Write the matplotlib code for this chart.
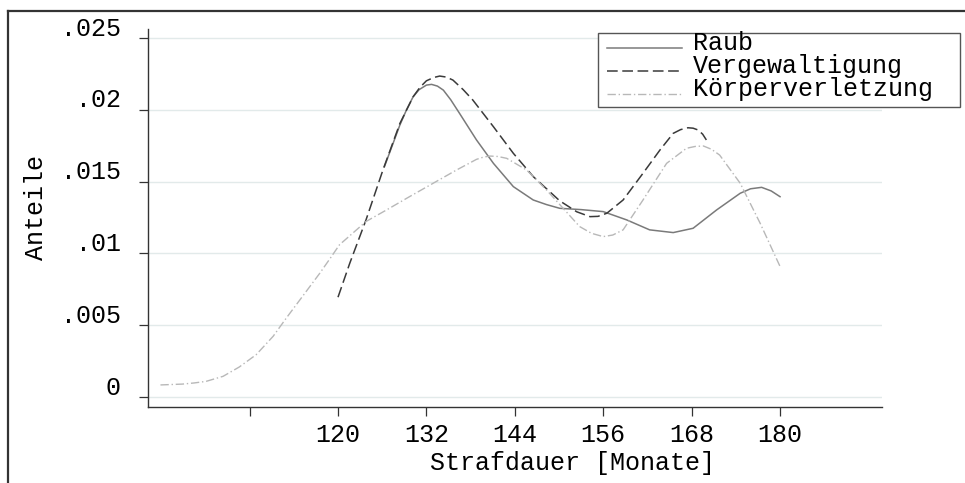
import matplotlib
matplotlib.use("Agg")
import matplotlib.pyplot as plt
from matplotlib.lines import Line2D
from matplotlib.patches import Rectangle
from matplotlib.transforms import ScaledTranslation

plt.rcParams['font.family'] = ['Liberation Mono', 'DejaVu Sans']

# values (months, density)
raub_x = [126.3, 128.4, 129.3, 130.2, 131.0, 132.0, 132.7, 133.5, 134.3, 135.3,
          136.5, 138.8, 141.1, 143.8, 146.5, 148.3, 150.1, 153.0, 156.0, 159.2,
          162.3, 165.5, 168.2, 171.4, 174.6, 176.0, 177.5, 178.8, 180.0]
raub_y = [0.01604, 0.01894, 0.02000, 0.02091, 0.02140, 0.02172, 0.02177, 0.02165,
          0.02137, 0.02070, 0.01975, 0.01790, 0.01627, 0.01465, 0.01372, 0.01340,
          0.01314, 0.01305, 0.01291, 0.01233, 0.01164, 0.01145, 0.01175, 0.01303,
          0.01419, 0.01450, 0.01460, 0.01435, 0.01395]

verg_x = [120.0, 121.6, 123.8, 126.1, 128.4, 130.2, 131.1, 132.0, 133.0, 133.8,
          134.7, 135.6, 137.0, 138.3, 141.1, 143.8, 146.5, 150.1, 152.4, 154.2,
          155.3, 156.5, 158.7, 161.4, 163.7, 165.5, 166.5, 167.5, 168.2, 168.9,
          169.5, 170.0]
verg_y = [0.00695, 0.00932, 0.01233, 0.01581, 0.01905, 0.02091, 0.02155, 0.02202,
          0.02225, 0.02235, 0.02228, 0.02207, 0.02140, 0.02068, 0.01882, 0.01697,
          0.01535, 0.01366, 0.01290, 0.01256, 0.01258, 0.01280, 0.01372, 0.01558,
          0.01720, 0.01836, 0.01862, 0.01875, 0.01872, 0.01859, 0.01830, 0.01790]

koerp_x = [95.9, 98.9, 100.5, 102.1, 104.4, 106.6, 108.9, 111.2, 113.0, 115.2,
           117.5, 119.0, 120.2, 123.8, 126.6, 129.7, 132.9, 136.1, 138.8, 139.7,
           140.6, 141.7, 142.9, 145.6, 148.3, 150.1, 152.8, 154.4, 156.0, 157.3,
           158.7, 161.4, 164.6, 167.3, 168.5, 169.6, 170.7, 171.8, 174.6, 177.3,
           180.0]
koerp_y = [0.00084, 0.00090, 0.00098, 0.00109, 0.00144, 0.00209, 0.00295, 0.00423,
           0.00551, 0.00702, 0.00860, 0.00970, 0.01060, 0.01222, 0.01303, 0.01395,
           0.01488, 0.01581, 0.01655, 0.01670, 0.01678, 0.01675, 0.01662, 0.01581,
           0.01442, 0.01340, 0.01187, 0.01140, 0.01117, 0.01128, 0.01164, 0.01372,
           0.01627, 0.01732, 0.01745, 0.01748, 0.01725, 0.01685, 0.01488, 0.01210,
           0.00909]

series_names = ['Raub', 'Vergewaltigung', 'Körperverletzung']

xticks = [108, 120, 132, 144, 156, 168, 180]
xticklabels = ['', '120', '132', '144', '156', '168', '180']
yticks = [0, 0.005, 0.01, 0.015, 0.02, 0.025]
yticklabels = ['0', '.005', '.01', '.015', '.02', '.025']

W, H = 965, 483
fig = plt.figure(figsize=(W / 100, H / 100), dpi=100)
ax = fig.add_axes([148 / W, 1 - 407 / H, (882 - 148) / W, (407 - 29) / H])

styles = [dict(color='#7a7a7a', lw=1.1),
          dict(color='#3a3a3a', lw=1.1, dashes=(7, 3)),
          dict(color='#b8b8b8', lw=1.0, dashes=(6, 2, 1, 2))]

ax.plot(raub_x, raub_y, label=series_names[0], **styles[0])
ax.plot(verg_x, verg_y, label=series_names[1], **styles[1])
ax.plot(koerp_x, koerp_y, label=series_names[2], **styles[2])

ax.set_xlim(94.21, 193.84)
ax.set_ylim(-0.000696, 0.025627)
ax.set_xticks(xticks)
ax.set_xticklabels(xticklabels)
ax.set_yticks(yticks)
ax.set_yticklabels(yticklabels)
ax.tick_params(axis='both', length=6.5, width=0.9, color='#333333',
               labelsize=18, labelcolor='black')
ax.tick_params(axis='y', pad=13)
ax.tick_params(axis='x', pad=5)
for lab in ax.get_yticklabels():
    lab.set_transform(lab.get_transform() + ScaledTranslation(0, 0.12, fig.dpi_scale_trans))

ax.grid(axis='y', color='#e2eaea', lw=1.0)
ax.set_axisbelow(True)
for s in ['top', 'right']:
    ax.spines[s].set_visible(False)
for s in ['left', 'bottom']:
    ax.spines[s].set_color('#333333')
    ax.spines[s].set_linewidth(1.0)

fig.text(36 / W, 1 - 207 / H, 'Anteile', rotation=90, ha='center', va='center', fontsize=18)
fig.text(573 / W, 1 - 463 / H, 'Strafdauer [Monate]', ha='center', va='center', fontsize=18)

# legend box drawn by hand so the rows sit as tight as in the original
fig.add_artist(Rectangle((598 / W, 1 - 107 / H), (960 - 598) / W, 74 / H,
                         transform=fig.transFigure, facecolor='white',
                         edgecolor='#555555', lw=1.0))
baselines = [50, 73, 96]
for name, st, yb in zip(series_names, styles, baselines):
    fig.add_artist(Line2D([607 / W, 682 / W], [1 - (yb - 2) / H] * 2,
                          transform=fig.transFigure, **st))
    fig.text(693 / W, 1 - yb / H, name, ha='left', va='baseline', fontsize=18)

# outer frame (top and left edges)
fig.add_artist(Line2D([8 / W, 1], [1 - 11 / H, 1 - 11 / H], transform=fig.transFigure,
                      color='#333333', lw=1.6))
fig.add_artist(Line2D([8 / W, 8 / W], [0, 1 - 11 / H], transform=fig.transFigure,
                      color='#333333', lw=1.6))

fig.savefig('out.png', dpi=100)
